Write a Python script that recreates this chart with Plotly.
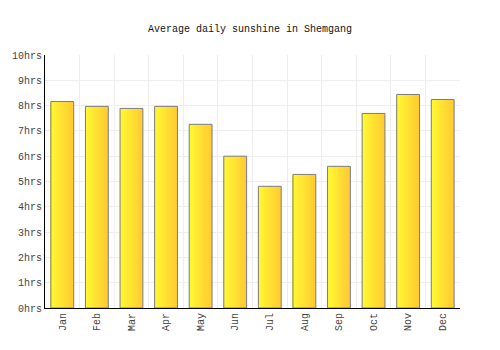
import plotly.graph_objects as go

months = ["Jan", "Feb", "Mar", "Apr", "May", "Jun", "Jul", "Aug", "Sep", "Oct", "Nov", "Dec"]
sunshine = [8.16, 7.97, 7.89, 7.97, 7.26, 6.0, 4.81, 5.28, 5.6, 7.69, 8.44, 8.24]
y_ticks = list(range(0, 11))
y_labels = [f"{v}hrs" for v in y_ticks]

bar_w = 0.66
n_strips = 12
c0 = (255, 248, 50)
c1 = (255, 204, 50)

fig = go.Figure()
for i in range(n_strips):
    t = i / (n_strips - 1)
    col = "rgb(%d,%d,%d)" % tuple(round(a + (b - a) * t) for a, b in zip(c0, c1))
    sw = bar_w / n_strips
    fig.add_trace(go.Bar(
        x=months, y=sunshine, width=sw, offset=-bar_w / 2 + i * sw,
        marker=dict(color=col, line=dict(width=0)), hoverinfo="skip", showlegend=False,
    ))
fig.add_trace(go.Bar(
    x=months, y=sunshine, width=bar_w, offset=-bar_w / 2,
    marker=dict(color="rgba(0,0,0,0)", line=dict(color="#7a7a8a", width=1)),
    showlegend=False,
))

fig.update_layout(
    barmode="overlay",
    width=500, height=350,
    margin=dict(l=40, r=40, t=55, b=42),
    paper_bgcolor="white", plot_bgcolor="white",
    font=dict(family="Liberation Mono", size=10, color="#333"),
    title=dict(text="Average daily sunshine in Shemgang", x=0.5, xanchor="center",
               y=1 - 28 / 350, yanchor="middle", font=dict(size=10, color="#111")),
    xaxis=dict(tickson="boundaries", showgrid=True, gridcolor="#eeeeee", tickangle=-90,
               showline=True, linecolor="black", linewidth=1, ticks="", range=[-0.5, 11.5],
               tickfont=dict(size=10, color="#444")),
    yaxis=dict(range=[0, 10], tickvals=y_ticks, ticktext=y_labels, showgrid=True,
               gridcolor="#eeeeee", showline=True, linecolor="black", linewidth=1,
               zeroline=False, ticks="", tickfont=dict(size=10, color="#444")),
)
fig.write_html("out.html")
